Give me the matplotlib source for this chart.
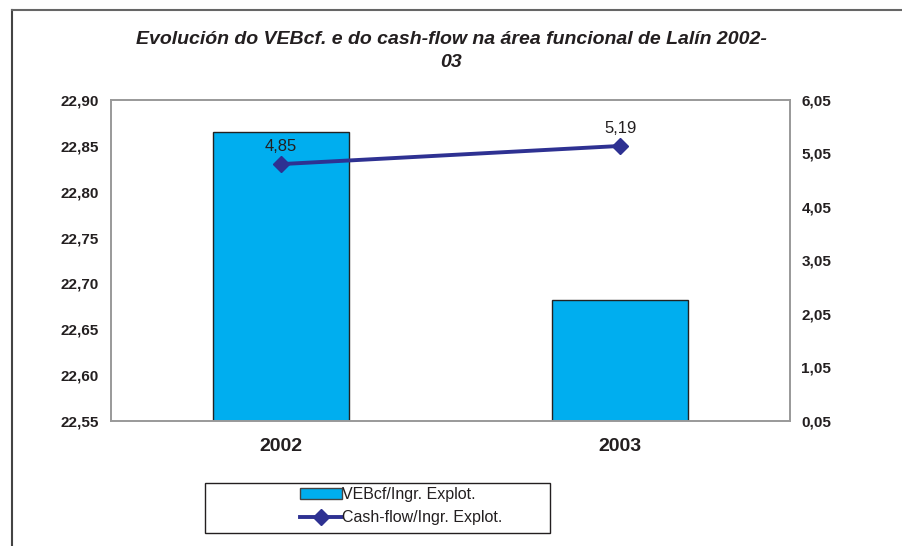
import matplotlib.pyplot as plt
from matplotlib.lines import Line2D
from matplotlib.patches import Patch, Rectangle

plt.rcParams['font.family'] = ['Liberation Sans', 'DejaVu Sans']

years = ['2002', '2003']
vebcf = [22.865, 22.682]
cashflow = [4.85, 5.19]
left_ticks = [22.55, 22.60, 22.65, 22.70, 22.75, 22.80, 22.85, 22.90]
right_ticks = [0.05, 1.05, 2.05, 3.05, 4.05, 5.05, 6.05]

bar_col = '#00AEEF'
line_col = '#2E3192'
txt_col = '#231F20'

def comma(v):
    return ('%.2f' % v).replace('.', ',')

fig = plt.figure(figsize=(9.02, 5.46), dpi=100)
ax = fig.add_axes([0.123, 0.229, 0.753, 0.588])
x = range(len(years))
ax.bar(x, vebcf, width=0.4, color=bar_col, edgecolor='#222222', linewidth=1.0)
ax.set_ylim(22.55, 22.90)
ax.set_xlim(-0.5, 1.5)
ax.set_yticks(left_ticks)
ax.set_yticklabels([comma(v) for v in left_ticks], fontsize=11, fontweight='bold', color=txt_col)
ax.set_xticks(list(x))
ax.set_xticklabels(years, fontsize=14, fontweight='bold', color=txt_col)
ax.tick_params(length=0, pad=9)
ax.tick_params(axis='x', pad=12)
for s in ax.spines.values():
    s.set_color('#999999')
    s.set_linewidth(1.2)

ax2 = ax.twinx()
ax2.plot(list(x), cashflow, color=line_col, linewidth=2.8, marker='D', markersize=8)
ax2.set_ylim(0.05, 6.05)
ax2.set_yticks(right_ticks)
ax2.set_yticklabels([comma(v) for v in right_ticks], fontsize=11, fontweight='bold', color=txt_col)
ax2.tick_params(length=0, pad=8)
for s in ax2.spines.values():
    s.set_color('#999999')
    s.set_linewidth(1.2)
for i, v in enumerate(cashflow):
    ax2.annotate(comma(v), (i, v), xytext=(0, 7), textcoords='offset points',
                 ha='center', va='bottom', fontsize=12, color=txt_col)

fig.text(0.5, 0.927, 'Evolución do VEBcf. e do cash-flow na área funcional de Lalín 2002-',
         ha='center', va='center', fontsize=14, fontweight='bold', style='italic', color=txt_col)
fig.text(0.5, 0.885, '03', ha='center', va='center', fontsize=14,
         fontweight='bold', style='italic', color=txt_col)

# legend frame drawn separately, entries placed inside it
fig.add_artist(Rectangle((0.227, 0.024), 0.383, 0.092, transform=fig.transFigure,
                         facecolor='white', edgecolor=txt_col, linewidth=1.0))
handles = [Patch(facecolor=bar_col, edgecolor='#444444'),
           Line2D([], [], color=line_col, linewidth=2.8, marker='D', markersize=8)]
leg = fig.legend(handles, ['VEBcf/Ingr. Explot.', 'Cash-flow/Ingr. Explot.'],
                 loc='center', bbox_to_anchor=(0.445, 0.073), fontsize=11.5,
                 frameon=False, handlelength=2.6, handletextpad=0.05,
                 borderpad=0.0, labelspacing=0.5)
for t in leg.get_texts():
    t.set_color(txt_col)

fig.add_artist(Line2D([0.0133, 0.0133], [0, 0.982], color='#444444', linewidth=1.5))
fig.add_artist(Line2D([0.0133, 1.0], [0.982, 0.982], color='#666666', linewidth=1.5))

fig.savefig('out.png', dpi=100)
